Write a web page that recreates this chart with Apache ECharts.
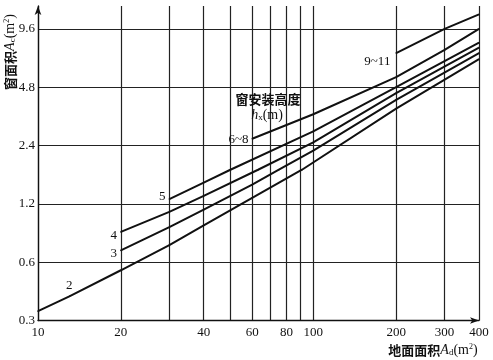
<!DOCTYPE html>
<html>
<head>
<meta charset="utf-8">
<script src="https://cdn.jsdelivr.net/npm/echarts@6/dist/echarts.min.js"></script>
<style>
html,body{margin:0;padding:0;background:#fff;}
#c{width:493px;height:360px;}
</style>
</head>
<body>
<div id="c"></div>
<script>
// ---- data (log-log chart) ----
const xGridTicks = [10, 20, 30, 40, 50, 60, 70, 80, 90, 100, 200, 300, 400];
const xTickLabels = [10, 20, 40, 60, 80, 100, 200, 300, 400];
const yTickLabels = [0.3, 0.6, 1.2, 2.4, 4.8, 9.6];

const seriesNames = ['2', '3', '4', '5', '6~8', '9~11'];

const h2X = [10, 13, 20, 30, 40, 60, 91, 200, 400];
const h2Y = [0.335, 0.40, 0.545, 0.735, 0.93, 1.29, 1.80, 3.72, 6.7];

const h3X = [20, 30, 40, 60, 75, 100, 200, 400];
const h3Y = [0.69, 0.91, 1.12, 1.51, 1.80, 2.26, 4.13, 7.2];

const h4X = [20, 30, 40, 63, 100, 200, 400];
const h4Y = [0.86, 1.09, 1.32, 1.80, 2.49, 4.47, 7.69];

const h5X = [30, 40, 50, 100, 200, 400];
const h5Y = [1.27, 1.545, 1.80, 2.84, 4.8, 8.15];

const h68X = [60, 100, 200, 300, 400];
const h68Y = [2.6, 3.48, 5.41, 7.48, 9.6];

const h911X = [200, 300, 400];
const h911Y = [7.2, 9.6, 11.4];

// ---- chart ----
const serif = '"Liberation Serif", "DejaVu Serif", serif';
const cjk = '"Noto Sans CJK SC", sans-serif';

function zip(xs, ys) { return xs.map((x, i) => [x, ys[i]]); }

function makeSeries(name, xs, ys, labelIndex, labelPos, offset) {
  const data = zip(xs, ys).map((p, i) => {
    if (i === labelIndex) {
      return {
        value: p,
        label: {
          show: true, formatter: name, position: labelPos, distance: 3,
          offset: offset || [0, 0],
          fontFamily: serif, fontSize: 13, color: '#111'
        }
      };
    }
    return p;
  });
  return {
    type: 'line', name: name, data: data,
    symbol: 'circle', symbolSize: 1.5, showSymbol: true,
    itemStyle: { color: '#111' },
    smooth: false,
    lineStyle: { color: '#111', width: 2 },
    label: { show: false },
    emphasis: { disabled: true },
    silent: true, z: 5
  };
}

const chart = echarts.init(document.getElementById('c'), null, { renderer: 'canvas' });
chart.setOption({
  animation: false,
  backgroundColor: '#fff',
  grid: { left: 38, right: 14, top: 6, bottom: 39.5, containLabel: false },
  xAxis: {
    type: 'log', logBase: 10, min: 10, max: 400,
    axisLine: { show: true, lineStyle: { color: '#111', width: 1.3 }, symbol: ['none', 'arrow'], symbolSize: [5, 9] },
    axisTick: { show: false, customValues: xGridTicks },
    splitLine: { show: true, lineStyle: { color: '#222', width: 1.2 } },
    minorSplitLine: { show: false },
    axisLabel: {
      customValues: xTickLabels, fontFamily: serif, fontSize: 13, color: '#111', margin: 6,
      formatter: v => String(Math.round(v))
    }
  },
  yAxis: {
    type: 'log', logBase: 2, min: 0.3, max: 12.6,
    axisLine: { show: true, lineStyle: { color: '#111', width: 1.3 }, symbol: ['none', 'arrow'], symbolSize: [5, 9] },
    axisTick: { show: false, customValues: yTickLabels },
    splitLine: { show: true, lineStyle: { color: '#222', width: 1.2 } },
    axisLabel: {
      customValues: yTickLabels, fontFamily: serif, fontSize: 13, color: '#111', margin: 3,
      formatter: v => (Math.round(v * 10) / 10).toFixed(1)
    }
  },
  graphic: [
    {
      type: 'text', x: 10, y: 52, rotation: Math.PI / 2,
      style: {
        text: '{c|窗面积}{i|A}{s|c}{n|(m}{sup|2}{n|)}',
        align: 'center', verticalAlign: 'middle',
        rich: {
          c: { fontFamily: cjk, fontWeight: 'bold', fontSize: 13, fill: '#111' },
          i: { fontFamily: serif, fontStyle: 'italic', fontSize: 14, fill: '#111' },
          s: { fontFamily: serif, fontSize: 9, fill: '#111', padding: [6, 0, 0, 0] },
          n: { fontFamily: serif, fontSize: 14, fill: '#111' },
          sup: { fontFamily: serif, fontSize: 8, fill: '#111', padding: [0, 0, 6, 0] }
        }
      }
    },
    {
      type: 'text', x: 433, y: 350,
      style: {
        text: '{c|地面面积}{i|A}{s|d}{n|(m}{sup|2}{n|)}',
        align: 'center', verticalAlign: 'middle',
        rich: {
          c: { fontFamily: cjk, fontWeight: 'bold', fontSize: 13, fill: '#111' },
          i: { fontFamily: serif, fontStyle: 'italic', fontSize: 14, fill: '#111' },
          s: { fontFamily: serif, fontSize: 9, fill: '#111', padding: [6, 0, 0, 0] },
          n: { fontFamily: serif, fontSize: 14, fill: '#111' },
          sup: { fontFamily: serif, fontSize: 8, fill: '#111', padding: [0, 0, 6, 0] }
        }
      }
    },
    {
      type: 'text', x: 268, y: 99,
      style: {
        text: '窗安装高度', align: 'center', verticalAlign: 'middle',
        fontFamily: cjk, fontWeight: 'bold', fontSize: 13, fill: '#111'
      },
      z: 10
    },
    {
      type: 'text', x: 267, y: 115,
      style: {
        text: '{i|h}{s|x}{n|(m)}', align: 'center', verticalAlign: 'middle',
        rich: {
          i: { fontFamily: serif, fontStyle: 'italic', fontSize: 14, fill: '#111' },
          s: { fontFamily: serif, fontSize: 9, fill: '#111', padding: [6, 0, 0, 0] },
          n: { fontFamily: serif, fontSize: 14, fill: '#111' }
        }
      },
      z: 10
    }
  ],
  series: [
    makeSeries(seriesNames[0], h2X, h2Y, 1, 'top', [0, 0]),
    makeSeries(seriesNames[1], h3X, h3Y, 0, 'left', [0, 3]),
    makeSeries(seriesNames[2], h4X, h4Y, 0, 'left', [0, 4]),
    makeSeries(seriesNames[3], h5X, h5Y, 0, 'left', [0, -3]),
    makeSeries(seriesNames[4], h68X, h68Y, 0, 'left', [0, 1]),
    makeSeries(seriesNames[5], h911X, h911Y, 0, 'left', [-2, 8])
  ]
});
</script>
</body>
</html>
